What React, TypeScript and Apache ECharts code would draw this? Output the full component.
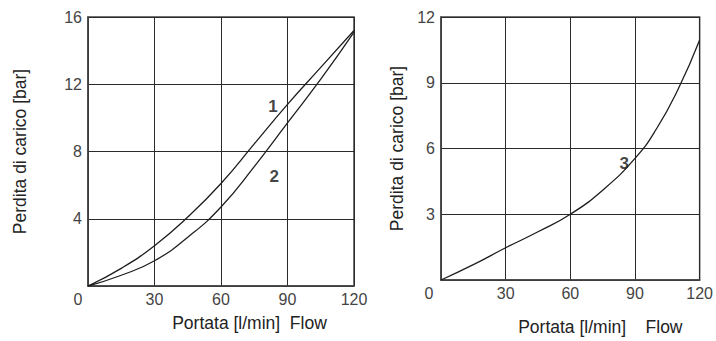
import React, { useEffect, useRef } from "react";
import * as echarts from "echarts";

// Left chart: curves 1 and 2 (x = flow l/min, y = pressure drop bar)
const curve1X = [0, 15, 30, 45, 60, 75, 90, 105, 120];
const curve1Y = [0, 1.05, 2.4, 4.1, 6.1, 8.45, 10.8, 13.0, 15.2];
const curve2X = [0, 15, 30, 45, 60, 75, 90, 105, 120];
const curve2Y = [0, 0.64, 1.5, 2.9, 4.7, 7.1, 9.7, 12.3, 15.1];
// Right chart: curve 3
const curve3X = [0, 15, 30, 45, 60, 75, 90, 100, 110, 120];
const curve3Y = [0, 0.7, 1.47, 2.2, 3.0, 4.1, 5.55, 6.9, 8.7, 10.95];

// Curve labels [x, y, text]
const leftLabels: [number, number, string][] = [
  [83.5, 10.65, "1"],
  [84, 6.5, "2"],
];
const rightLabels: [number, number, string][] = [[85, 5.3, "3"]];

const xMax = 120;
const xInterval = 30;
const leftYMax = 16;
const leftYInterval = 4;
const rightYMax = 12;
const rightYInterval = 3;

const yTitle = "Perdita di carico [bar]";
const xTitleLeft = "Portata [l/min]\u00a0\u00a0Flow";
const xTitleRight = "Portata [l/min]\u00a0\u00a0\u00a0\u00a0Flow";

const zip = (xs: number[], ys: number[]) => xs.map((x, i) => [x, ys[i]]);

const NUM_FONT = "'Liberation Sans', Arial, sans-serif";
const TITLE_FONT = "'Liberation Sans', Arial, sans-serif";
const LINE = "#1e1e1e";
const GRIDC = "#2a2a2a";
const NUM_COLOR = "#444";

export default function App() {
  const ref = useRef<HTMLDivElement>(null);
  useEffect(() => {
    if (!ref.current) return;
    const chart = echarts.init(ref.current, undefined, { renderer: "svg" });

    const xAxisBase = (gridIndex: number, shift: number, name: string, nameGap: number, padLeft: number) => ({
      type: "value",
      gridIndex,
      min: 0,
      max: xMax,
      interval: xInterval,
      name,
      nameLocation: "middle",
      nameGap,
      nameTextStyle: {
        fontFamily: TITLE_FONT,
        fontSize: 17.5,
        color: "#222",
        padding: [0, 0, 0, padLeft],
      },
      axisLine: { show: true, lineStyle: { color: "#444", width: 1.5 } },
      axisTick: { show: false },
      splitLine: { show: true, lineStyle: { color: GRIDC, width: 1 } },
      axisLabel: {
        margin: 5,
        fontFamily: NUM_FONT,
        fontSize: 16,
        color: NUM_COLOR,
        showMinLabel: true,
        showMaxLabel: true,
        formatter: (v: number) => (v === 0 ? "{z|0}" : String(v)),
        rich: {
          z: {
            fontFamily: NUM_FONT,
            fontSize: 16,
            color: NUM_COLOR,
            padding: [0, shift, 0, 0],
          },
        },
      },
    });

    const yAxisBase = (gridIndex: number, max: number, interval: number, nameGap: number) => ({
      type: "value",
      gridIndex,
      min: 0,
      max,
      interval,
      name: yTitle,
      nameLocation: "middle",
      nameGap,
      nameRotate: 90,
      nameTextStyle: {
        fontFamily: TITLE_FONT,
        fontSize: 17.5,
        color: "#222",
      },
      axisLine: { show: true, lineStyle: { color: "#444", width: 1.5 } },
      axisTick: { show: false },
      splitLine: { show: true, lineStyle: { color: GRIDC, width: 1 } },
      axisLabel: {
        margin: 6,
        fontFamily: NUM_FONT,
        fontSize: 16,
        color: NUM_COLOR,
        formatter: (v: number) => (v === 0 ? "" : String(v)),
      },
    });

    const lineSeries = (data: number[][], idx: number) => ({
      type: "line",
      xAxisIndex: idx,
      yAxisIndex: idx,
      data,
      smooth: 0.5,
      showSymbol: false,
      symbol: "none",
      lineStyle: { color: LINE, width: 1.3 },
      silent: true,
    });

    const labelSeries = (data: [number, number, string][], idx: number) => ({
      type: "scatter",
      xAxisIndex: idx,
      yAxisIndex: idx,
      data: data.map((d) => ({ value: d })),
      symbolSize: 0,
      silent: true,
      label: {
        show: true,
        position: "inside",
        formatter: (p: any) => p.value[2],
        fontFamily: TITLE_FONT,
        fontWeight: "bold",
        fontSize: 17,
        color: "#111",
      },
    });

    chart.setOption({
      animation: false,
      backgroundColor: "#fff",
      grid: [
        { left: 88, top: 17, width: 266, height: 269, show: true, borderColor: "#444", borderWidth: 1.5 },
        { left: 441, top: 17, width: 266, height: 269, show: true, borderColor: "#444", borderWidth: 1.5 },
      ],
      xAxis: [
        xAxisBase(0, 20, xTitleLeft, 28, 57),
        xAxisBase(1, 24, xTitleRight, 38, 60),
      ],
      yAxis: [
        yAxisBase(0, leftYMax, leftYInterval, 59),
        yAxisBase(1, rightYMax, rightYInterval, 35),
      ],
      series: [
        lineSeries(zip(curve1X, curve1Y), 0),
        lineSeries(zip(curve2X, curve2Y), 0),
        lineSeries(zip(curve3X, curve3Y), 1),
        labelSeries(leftLabels, 0),
        labelSeries(rightLabels, 1),
      ],
    });
    return () => chart.dispose();
  }, []);
  return (
    <div
      ref={ref}
      style={{ position: "absolute", left: 0, top: 0, width: 716, height: 341, background: "#fff" }}
    />
  );
}
